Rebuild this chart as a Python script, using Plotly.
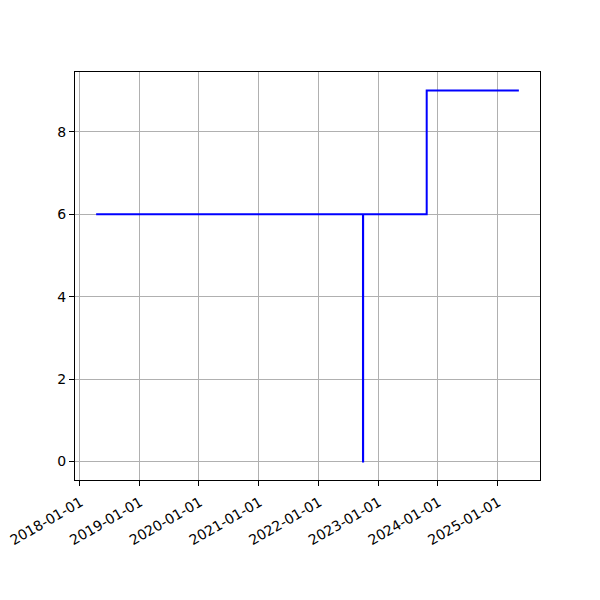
import plotly.graph_objects as go
import pandas as pd

dates = ["2018-04-12", "2022-09-30", "2022-10-01", "2022-10-02", "2023-10-26", "2025-05-12"]
values = [6, 6, 0, 6, 9, 9]
x_ticks = ["2018-01-01", "2019-01-01", "2020-01-01", "2021-01-01", "2022-01-01",
           "2023-01-01", "2024-01-01", "2025-01-01"]
y_ticks = [0, 2, 4, 6, 8]

d = pd.to_datetime(dates)
span = d.max() - d.min()
xr = [d.min() - span * 0.05, d.max() + span * 0.05]
yspan = max(values) - min(values)
yr = [min(values) - 0.05 * yspan, max(values) + 0.05 * yspan]

fig = go.Figure(go.Scatter(x=dates, y=values, mode="lines", line_shape="hv",
                           line=dict(color="blue", width=2)))

axis_common = dict(showline=True, linecolor="black", linewidth=1, mirror=True,
                   ticks="outside", ticklen=5, tickcolor="black", tickwidth=1,
                   showgrid=True, gridcolor="#b0b0b0", gridwidth=1, zeroline=False,
                   automargin=False, ticklabeloverflow="allow",
                   tickfont=dict(family="DejaVu Sans", size=14, color="black"))

fig.update_xaxes(range=xr, tickvals=x_ticks, ticktext=x_ticks, tickangle=-30,
                 ticklabelstandoff=3, ticklabelshift=1, **axis_common)
fig.update_yaxes(range=yr, tickvals=y_ticks, **axis_common)

fig.update_layout(width=600, height=600, plot_bgcolor="white", paper_bgcolor="white",
                  margin=dict(l=67, r=68, t=64, b=128), showlegend=False)

fig.write_html("out.html")
